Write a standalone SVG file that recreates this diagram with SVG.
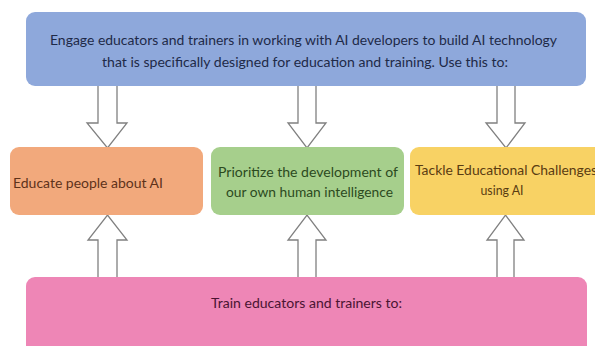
<svg xmlns="http://www.w3.org/2000/svg" width="595" height="346" viewBox="0 0 595 346">
  <style>
    .lbl { font-family: Lato, "Open Sans", "Liberation Sans", sans-serif; font-size: 13.5px; }
    .box { stroke: none; }
    .arrow { fill: #ffffff; stroke: #808080; stroke-width: 1.3; stroke-linejoin: miter; }
  </style>
  <rect width="595" height="346" fill="#ffffff"/>

  <!-- block arrows between the rows -->
  <g id="connectors">
    <!-- down arrows from the top box -->
    <polygon class="arrow" points="98,84 117,84 117,123 127,123 107.5,148 87,123 98,123"/>
    <polygon class="arrow" points="298,84 316,84 316,123 326,123 307,148 288,123 298,123"/>
    <polygon class="arrow" points="497,84 515,84 515,123 525,123 506,148 486,123 497,123"/>
    <!-- up arrows from the bottom box -->
    <polygon class="arrow" points="98,279 117,279 117,240 127,240 107.5,215 88,240 98,240"/>
    <polygon class="arrow" points="298,279 316,279 316,240 326,240 307,215 288,240 298,240"/>
    <polygon class="arrow" points="497,279 514,279 514,240 524,240 505.5,215 487,240 497,240"/>
  </g>

  <g id="node-engage">
    <rect class="box" x="26" y="12" width="560" height="74" rx="9" fill="#8EA8DB"/>
    <text class="lbl" x="303.5" y="45" text-anchor="middle" fill="#1E2A48" textLength="507" lengthAdjust="spacingAndGlyphs">Engage educators and trainers in working with AI developers to build AI technology</text>
    <text class="lbl" x="305" y="67" text-anchor="middle" fill="#1E2A48" textLength="406" lengthAdjust="spacingAndGlyphs">that is specifically designed for education and training. Use this to:</text>
  </g>

  <g id="node-educate">
    <rect class="box" x="10" y="147" width="193" height="68" rx="9" fill="#F2A97C"/>
    <text class="lbl" x="13" y="188" fill="#5E321A" textLength="150" lengthAdjust="spacingAndGlyphs">Educate people about AI</text>
  </g>

  <g id="node-prioritize">
    <rect class="box" x="211" y="147" width="193" height="68" rx="9" fill="#A6CF8C"/>
    <text class="lbl" x="308" y="177" text-anchor="middle" fill="#2C4A1E" textLength="180" lengthAdjust="spacingAndGlyphs">Prioritize the development of</text>
    <text class="lbl" x="309.5" y="197" text-anchor="middle" fill="#2C4A1E" textLength="167" lengthAdjust="spacingAndGlyphs">our own human intelligence</text>
  </g>

  <g id="node-tackle">
    <rect class="box" x="410" y="147" width="200" height="68" rx="9" fill="#F8D264"/>
    <text class="lbl" x="415" y="175" fill="#5A3C12" textLength="182" lengthAdjust="spacingAndGlyphs">Tackle Educational Challenges</text>
    <text class="lbl" x="502" y="195" text-anchor="middle" fill="#5A3C12" textLength="43" lengthAdjust="spacingAndGlyphs">using AI</text>
  </g>

  <g id="node-train">
    <rect class="box" x="26" y="277" width="561" height="80" rx="9" fill="#EE86B6"/>
    <text class="lbl" x="306.5" y="308" text-anchor="middle" fill="#4A1432" textLength="191" lengthAdjust="spacingAndGlyphs">Train educators and trainers to:</text>
  </g>
</svg>
